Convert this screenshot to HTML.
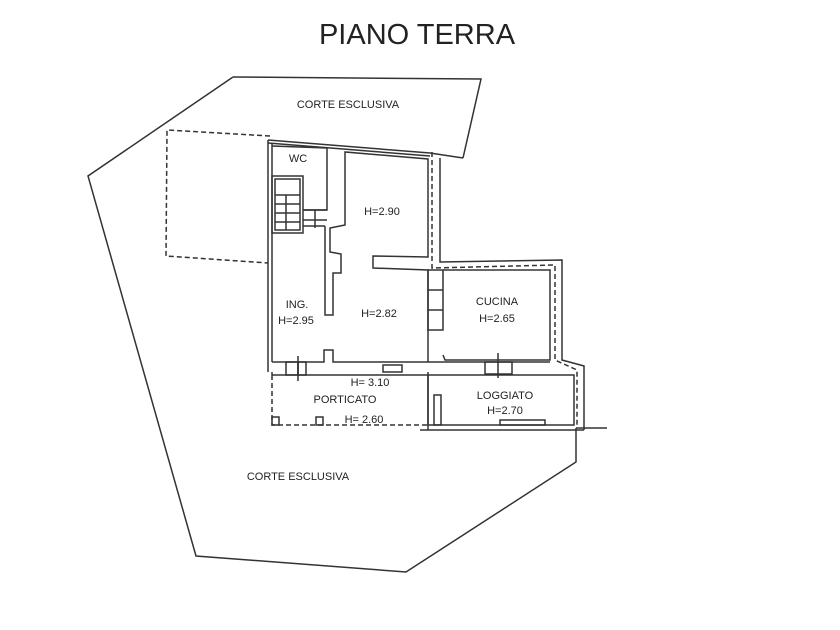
<!DOCTYPE html>
<html><head><style>
body{margin:0;background:#fff;}
svg{display:block;font-family:"Liberation Sans",sans-serif;}
</style></head><body>
<svg width="840" height="630" viewBox="0 0 840 630" xmlns="http://www.w3.org/2000/svg">
<rect width="840" height="630" fill="#fff"/>
<text x="417" y="44" font-size="29" text-anchor="middle" fill="#222">PIANO TERRA</text>
<g fill="none" stroke="#333" stroke-width="1.5">
<polyline points="233,77 481,79 463,158"/>
<polyline points="233,77 88,176 196,556 406,572 576,462 576,428"/>
<line x1="576" y1="428" x2="607" y2="428"/>
<polyline points="270,136 167,130 166,256 268,263" stroke-dasharray="5,3"/>
<polyline points="268,140 430,153 463,158"/>
<polyline points="268,143 430,156"/>
<line x1="268" y1="140" x2="268" y2="372"/>
<line x1="272" y1="143" x2="272" y2="362"/>
<polyline points="272,146 327,148 327,210 303,210"/>
<rect x="272" y="176" width="31" height="57"/>
<rect x="275" y="179" width="25" height="51"/>
<line x1="275" y1="195" x2="300" y2="195"/><line x1="275" y1="204" x2="300" y2="204"/><line x1="275" y1="213" x2="300" y2="213"/><line x1="275" y1="222" x2="300" y2="222"/>
<line x1="286" y1="195" x2="286" y2="230"/>
<line x1="303" y1="210" x2="327" y2="210"/><line x1="303" y1="220" x2="327" y2="220"/><line x1="315" y1="210" x2="315" y2="228"/>
<line x1="303" y1="226" x2="325" y2="226"/>
<polyline points="325,226 325,315 333,315 333,273 341,273 341,254 330,252 330,228 345,225 345,152 428,159 428,257 373,256 373,268 428,270 428,362"/>
<polyline points="272,362 324,362 324,350 333,350 333,362 428,362"/>
<line x1="272" y1="375" x2="428" y2="375"/>
<line x1="272" y1="372" x2="272" y2="375"/>
<rect x="286" y="362" width="12" height="13"/><rect x="298" y="362" width="8" height="13"/>
<line x1="298" y1="356" x2="298" y2="381"/>
<rect x="383" y="365" width="19" height="7"/>
<polyline points="272,375 272,425 428,425" stroke-dasharray="5,3"/>
<rect x="272" y="417" width="7" height="8"/><rect x="316" y="417" width="7" height="8"/>
<polyline points="432,152 432,268 555,265 555,360 577,370 577,425" stroke-dasharray="5,3"/>
<polyline points="440,158 440,262 562,260 562,360 584,366 584,430"/>
<polyline points="443,270 550,270 550,360 445,360 443,355"/>
<rect x="428" y="270" width="15" height="60"/>
<line x1="428" y1="290" x2="443" y2="290"/><line x1="428" y1="310" x2="443" y2="310"/>
<line x1="428" y1="362" x2="550" y2="362"/>
<rect x="485" y="362" width="27" height="12"/>
<line x1="498" y1="353" x2="498" y2="378"/>
<polyline points="428,375 574,375 574,425 428,425 428,375"/>
<line x1="428" y1="372" x2="428" y2="430"/>
<rect x="434" y="395" width="7" height="30"/>
<rect x="500" y="420" width="45" height="5"/>
<line x1="420" y1="430" x2="584" y2="430"/>
</g>
<g font-size="11" fill="#222" text-anchor="middle">
<text x="348" y="108">CORTE ESCLUSIVA</text>
<text x="298" y="480">CORTE ESCLUSIVA</text>
<text x="298" y="162">WC</text>
<text x="382" y="215">H=2.90</text>
<text x="297" y="308">ING.</text>
<text x="296" y="324">H=2.95</text>
<text x="379" y="317">H=2.82</text>
<text x="497" y="305">CUCINA</text>
<text x="497" y="322">H=2.65</text>
<text x="370" y="386">H= 3.10</text>
<text x="345" y="403">PORTICATO</text>
<text x="364" y="423">H= 2.60</text>
<text x="505" y="399">LOGGIATO</text>
<text x="505" y="414">H=2.70</text>
</g>
</svg>
</body></html>
